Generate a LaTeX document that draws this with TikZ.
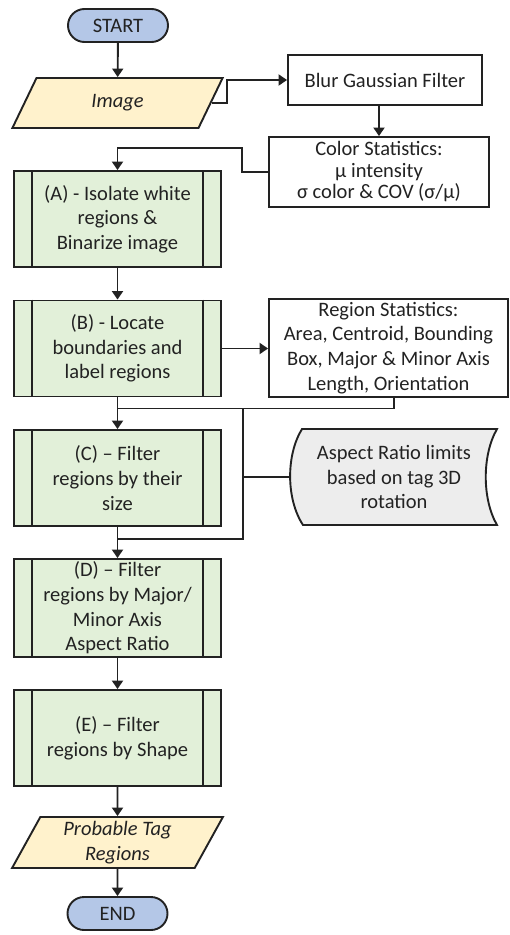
\documentclass[tikz,border=0pt]{standalone}
\usepackage{fontspec}
\setmainfont{Carlito}
\usetikzlibrary{shapes.geometric,shapes.misc,arrows.meta,calc}

\definecolor{termfill}{HTML}{B4C7E7}
\definecolor{iofill}{HTML}{FFF2CC}
\definecolor{procfill}{HTML}{E2F0D9}
\definecolor{datafill}{HTML}{EDEDED}
\definecolor{ink}{HTML}{222222}

\tikzset{
  base/.style={draw=ink, line width=1.9pt, text=ink, inner sep=0pt,
    align=center, font=\fontsize{20.5}{24.7}\selectfont},
  terminal/.style={base, rounded rectangle, fill=termfill,
    minimum width=100pt, minimum height=33pt},
  iobox/.style={base, trapezium, trapezium left angle=65,
    trapezium right angle=115, trapezium stretches=true, fill=iofill,
    minimum width=211pt, minimum height=50pt, font=\fontsize{20.5}{24.7}\selectfont\itshape},
  procbox/.style={base, fill=procfill, minimum width=207pt, minimum height=96pt},
  infobox/.style={base, fill=white},
  arr/.style={line width=1.9pt, draw=ink, -{Triangle[width=11pt,length=8.5pt]}},
  wire/.style={line width=1.9pt, draw=ink},
}

\begin{document}
\begin{tikzpicture}[x=1pt,y=-1pt]
\useasboundingbox[fill=white] (0,0) rectangle (510,935);

% main column
\node[terminal] (start) at (118,25.5) {START};
\node[iobox] (image) at (117.5,103) {Image};
\node[procbox] (A) at (117.5,219) {(A) - Isolate white\\regions \&\\Binarize image};
\node[procbox] (B) at (117.5,348.5) {(B) - Locate\\boundaries and\\label regions};
\node[procbox] (C) at (117.5,478) {(C) – Filter\\regions by their\\size};
\node[procbox, minimum height=98pt] (D) at (117.5,608) {(D) – Filter\\regions by Major/\\Minor Axis\\Aspect Ratio};
\node[procbox] (E) at (117.5,738) {(E) – Filter\\regions by Shape};
\node[iobox, minimum height=51pt] (prob) at (117.5,842.5) {Probable Tag\\Regions};
\node[terminal] (end) at (117.5,913.5) {END};

% side bands of the predefined-process boxes
\foreach \n in {A,B,C,D,E}
  \draw[wire] ([xshift=19pt]\n.north west) -- ([xshift=19pt]\n.south west)
              ([xshift=-19pt]\n.north east) -- ([xshift=-19pt]\n.south east);

% side boxes
\node[infobox, minimum width=194pt, minimum height=50pt] (blur) at (385,80) {Blur Gaussian Filter};
\node[infobox, minimum width=220pt, minimum height=70pt,
      font=\fontsize{20.5}{21.5}\selectfont] (color) at (379,172)
  {Color Statistics:\\µ intensity\\σ color \& COV (σ/µ)};
\node[infobox, minimum width=239pt, minimum height=98pt] (region) at (388.5,348)
  {Region Statistics:\\Area, Centroid, Bounding\\Box, Major \& Minor Axis\\Length, Orientation};

% stored-data shape with the aspect ratio limits
\draw[line width=1.9pt, draw=ink, fill=datafill]
  (302,429) -- (497,429) .. controls (482,455) and (482,499) .. (497,525)
  -- (303,525) .. controls (286,499) and (286,455) .. (302,429) -- cycle;
\node[base, draw=none] (ar) at (394,477) {Aspect Ratio limits\\based on tag 3D\\rotation};
\coordinate (arleft) at (290,477);

% junction points
\coordinate (j1) at ($(B.south)+(0,11)$);
\coordinate (bus) at (243,408);
\coordinate (j2) at ($(C.south)+(0,12)$);

% connectors
\draw[arr] (start) -- (image);
\draw[arr] (image.east) -- ++(15,0) |- (blur.west);
\draw[arr] (blur.south -| color.north) -- (color.north);
\draw[arr] (color.west) -- ++(-26,0) coordinate (c1) -- (c1 |- 0,148) -| (A.north);
\draw[arr] (A) -- (B);
\draw[arr] (B.east) -- (B.east -| region.west);
\draw[arr] (B) -- (C);
\draw[wire] ([xshift=5.5pt]region.south) |- (j1);
\draw[wire] (bus) |- (j2);
\draw[wire] (arleft) -- (arleft -| bus);
\draw[arr] (C) -- (D);
\draw[arr] (D) -- (E);
\draw[arr] (E) -- (prob);
\draw[arr] (prob) -- (end);
\end{tikzpicture}
\end{document}
